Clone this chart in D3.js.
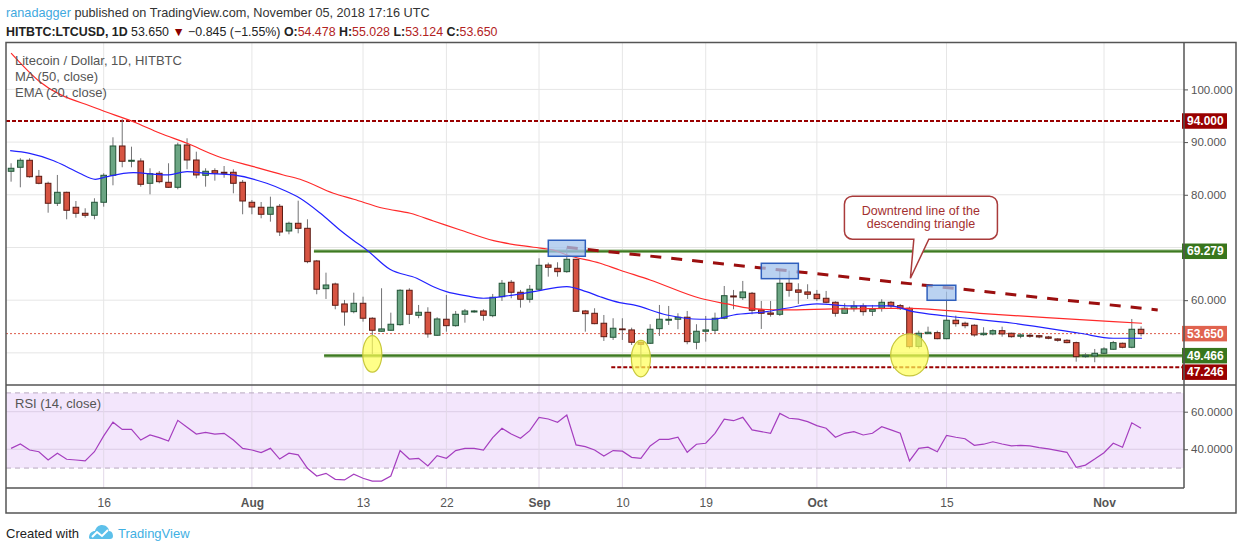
<!DOCTYPE html>
<html>
<head>
<meta charset="utf-8">
<script src="https://cdnjs.cloudflare.com/ajax/libs/d3/7.8.5/d3.min.js"></script>
<style>
    body { margin: 0; background: #fff; }
    svg { display: block; font-family: "Liberation Sans", Arial, sans-serif; }
</style>
</head>
<body>
<div id="chart"></div>
<script>
// daily candles, first one on 6 Jul 2018, last on 5 Nov 2018
var firstDay = "2018-07-06";
var opens = [84.46, 85.22, 86.55, 83.51, 82.18, 78.39, 80.47, 77.63, 76.49, 76.11,
    78.58, 83.70, 89.26, 86.36, 86.41, 82.18, 84.08, 82.37, 81.42, 89.45,
    86.60, 83.70, 84.57, 84.27, 84.27, 82.37, 78.58, 77.63, 76.30, 77.82,
    73.13, 74.59, 73.64, 67.44, 62.18, 63.07, 59.28, 57.82, 59.41, 56.57,
    54.10, 54.29, 55.35, 61.88, 57.13, 57.70, 53.34, 56.38, 55.16, 57.32,
    57.76, 57.95, 57.06, 60.66, 63.40, 61.50, 60.17, 62.07, 66.68, 66.05,
    65.41, 67.76, 57.95, 57.51, 55.62, 52.96, 54.54, 54.35, 52.01, 51.82,
    54.59, 56.19, 56.38, 56.76, 52.01, 54.10, 54.29, 56.57, 60.80, 60.47,
    61.31, 58.14, 57.57, 57.32, 63.21, 61.94, 61.56, 61.12, 60.36, 59.60,
    57.51, 58.39, 58.90, 57.89, 58.46, 59.60, 58.96, 58.46, 51.22, 53.64,
    53.83, 52.69, 56.19, 55.62, 55.24, 53.45, 53.59, 54.21, 53.72, 53.15,
    53.34, 53.26, 53.02, 52.64, 52.39, 51.94, 49.28, 49.41, 49.92, 50.68,
    51.82, 51.06, 54.478];
var highs = [85.98, 86.93, 86.93, 84.71, 82.49, 83.76, 80.59, 78.82, 77.44, 79.34,
    84.08, 90.91, 94.33, 89.13, 86.93, 85.03, 84.52, 85.98, 89.89, 90.72,
    88.18, 85.03, 85.03, 85.46, 84.84, 82.81, 79.01, 78.63, 79.64, 78.25,
    74.90, 78.88, 75.35, 67.63, 65.22, 63.32, 60.04, 61.42, 60.66, 56.76,
    62.26, 57.63, 62.07, 62.26, 59.09, 58.65, 56.76, 60.99, 57.95, 58.33,
    58.14, 58.27, 61.18, 63.83, 63.83, 61.94, 62.88, 67.95, 67.12, 67.19,
    69.85, 67.82, 58.14, 58.46, 57.19, 56.57, 56.57, 54.78, 52.13, 55.43,
    59.09, 58.90, 57.51, 57.95, 55.43, 57.00, 57.63, 62.69, 61.94, 63.65,
    61.56, 59.85, 59.85, 65.60, 65.60, 63.21, 63.02, 61.94, 61.75, 59.79,
    59.41, 59.85, 59.41, 59.09, 60.17, 59.85, 59.28, 58.77, 54.21, 54.97,
    54.21, 61.61, 57.06, 55.92, 55.43, 54.86, 54.48, 54.97, 53.83, 53.72,
    53.72, 53.40, 53.21, 52.77, 52.58, 52.13, 49.92, 50.74, 51.06, 52.26,
    51.94, 56.43, 55.028];
var lows = [82.49, 81.42, 83.24, 81.99, 76.60, 77.87, 75.35, 75.65, 75.65, 75.35,
    77.74, 81.80, 85.22, 85.22, 81.54, 80.09, 82.18, 81.30, 81.04, 84.84,
    83.13, 81.54, 82.68, 83.24, 80.28, 76.30, 76.30, 75.54, 74.90, 72.18,
    72.50, 72.69, 67.00, 61.12, 60.23, 58.27, 55.16, 57.51, 55.92, 49.79,
    54.00, 54.20, 55.16, 55.48, 56.57, 52.88, 53.21, 54.02, 54.97, 55.73,
    57.63, 56.11, 56.76, 59.85, 60.36, 58.58, 59.53, 61.94, 64.46, 64.46,
    65.20, 57.76, 54.02, 55.43, 52.26, 52.45, 52.45, 51.50, 47.25, 51.69,
    53.21, 55.29, 54.48, 51.63, 50.68, 52.13, 53.59, 56.38, 58.27, 60.04,
    57.32, 54.54, 56.87, 57.00, 60.66, 59.28, 60.23, 59.85, 59.41, 56.87,
    57.38, 57.82, 57.06, 57.00, 57.82, 58.46, 58.14, 50.83, 50.80, 53.59,
    52.58, 52.58, 54.97, 54.67, 53.07, 53.26, 53.34, 53.07, 52.88, 52.77,
    52.88, 52.77, 52.58, 52.13, 51.82, 48.33, 49.09, 48.22, 49.73, 50.55,
    50.87, 50.87, 53.124];
var closes = [85.03, 86.55, 83.43, 82.18, 78.39, 80.47, 77.06, 76.49, 76.11, 78.58,
    83.70, 89.26, 86.36, 86.55, 81.99, 84.00, 82.49, 81.42, 89.45, 86.60,
    83.76, 84.46, 84.08, 84.08, 82.18, 78.82, 77.68, 76.30, 77.63, 72.94,
    74.59, 73.64, 67.31, 62.07, 62.88, 59.03, 57.76, 59.41, 56.57, 54.29,
    54.54, 55.43, 61.88, 57.32, 57.70, 53.59, 56.43, 55.16, 57.32, 57.95,
    57.95, 57.13, 60.55, 63.21, 61.50, 60.17, 62.07, 66.62, 66.24, 65.41,
    67.76, 57.89, 57.44, 55.54, 53.07, 54.67, 54.40, 52.01, 51.63, 54.48,
    56.38, 56.38, 56.76, 52.13, 54.10, 54.35, 56.57, 60.85, 60.61, 61.56,
    58.08, 57.51, 57.32, 63.21, 61.88, 61.50, 61.12, 60.28, 59.60, 57.51,
    58.46, 58.90, 57.82, 58.27, 59.60, 58.90, 58.39, 51.18, 53.72, 53.91,
    52.69, 56.19, 55.54, 55.16, 53.40, 53.72, 54.21, 53.59, 53.07, 53.40,
    53.15, 53.02, 52.77, 52.39, 51.94, 49.28, 49.54, 49.92, 50.74, 51.94,
    51.06, 54.48, 53.650];

// RSI (14, close), one value per candle
var rsiValues = [40.5, 42.8, 39.6, 38.7, 34.3, 37.9, 34.7, 34.3, 33.8, 38.7,
    47.1, 54.4, 50.6, 50.6, 44.9, 47.6, 46.2, 44.4, 55.4, 51.7,
    48.1, 49.0, 48.1, 48.5, 44.9, 40.5, 39.6, 38.2, 40.5, 34.8,
    37.9, 37.0, 29.9, 25.8, 27.2, 24.0, 23.7, 26.7, 24.6, 23.1,
    23.1, 25.8, 39.3, 34.8, 35.2, 31.1, 36.6, 35.2, 39.3, 40.5,
    40.5, 39.6, 46.2, 51.2, 48.1, 45.9, 49.9, 57.0, 56.1, 54.4,
    58.2, 42.3, 41.4, 39.6, 36.4, 39.3, 39.0, 35.7, 35.2, 41.8,
    45.3, 45.3, 46.4, 38.4, 42.7, 43.2, 48.5, 56.0, 55.2, 57.0,
    50.3, 49.4, 48.5, 59.1, 56.5, 56.0, 54.7, 52.6, 51.2, 46.4,
    48.5, 49.4, 47.6, 48.5, 52.0, 50.3, 48.5, 33.8, 40.5, 41.1,
    38.7, 47.4, 46.4, 45.6, 42.1, 42.7, 44.0, 42.8, 41.8, 42.1,
    41.8, 40.9, 40.2, 39.3, 38.4, 30.4, 31.6, 34.8, 38.2, 43.2,
    41.1, 54.1, 51.2];

// moving averages, read at sample days (days counted from 16 Jul 2018)
var maDays = [-10, -6.9, -0.8, 3.2, 6.1, 9.0, 12.2, 16.2, 19.4, 21.2, 24.8, 27.0,
    30.2, 33.1, 35.6, 38.5, 42.1, 46.4, 48.5, 50.0, 53.6, 55.7, 59.0, 64.4,
    67.3, 69.8, 73.4, 78.8, 84.9, 87.0, 94.6, 101.8, 109.0, 112.1];
var maValues = [106.9, 101.46, 96.41, 93.87, 91.67, 89.77, 87.36, 85.33, 83.76, 82.94, 80.28, 79.15,
    77.44, 76.49, 75.03, 73.32, 71.29, 70.04, 69.53, 68.58, 67.0, 65.73, 63.83, 60.36,
    59.28, 58.46, 58.14, 58.33, 58.46, 58.46, 57.51, 56.68, 55.92, 55.62];
var emaDays = [-10.1, -8, -5.4, -4, -2.6, -0.9, 0.3, 3.2, 6.8, 9, 11.1, 14, 17.6, 19.4,
    21.2, 23.4, 25.5, 26.9, 28.4, 30.9, 33.8, 35.6, 37, 39.2, 41, 43.5, 46.4, 50,
    52.1, 53.6, 55.7, 57.2, 60.8, 64.4, 65.8, 68, 71.6, 73.7, 77, 80.6, 84.9, 87.4,
    91, 98.2, 105.4, 109, 112.1];
var emaValues = [88.37, 87.87, 86.47, 85.33, 84.08, 82.94, 83.43, 84.19, 83.76, 84.38, 84.08, 83.76, 82.18, 80.91,
    79.34, 76.49, 73.32, 71.42, 69.52, 65.86, 64.16, 62.56, 61.61, 60.80, 60.36, 60.80, 61.61, 62.56,
    61.61, 60.65, 59.53, 59.09, 57.19, 56.38, 56.38, 57.19, 57.82, 58.46, 59.28, 58.90, 58.90, 57.82,
    57.00, 55.62, 53.72, 52.77, 52.77];

// drawn levels: 94 resistance, 69.279 / 49.466 range, 47.246 low
var levelValues = [94.000, 69.279, 49.466, 47.246];
var levelStartDays = [-11, 22.7, 23.8, 54.8];
var lastPrice = 53.650;

// downtrend line of the triangle
var trendDays = [50.0, 113.8];
var trendValues = [70.04, 58.14];

// highlighted tops [day from, day to], [price low, price high]
var boxDays = [[48.0, 52.0], [71.0, 75.0], [88.9, 92.0]];
var boxPrices = [[68.33, 71.37], [64.08, 67.0], [59.98, 62.83]];

// highlighted lows
var ellipseDays = [29.0, 58.0, 87.0];
var ellipsePrices = [49.8, 48.9, 49.6];

// callout pointing at the trend line
var calloutDay = 87.1;
var calloutPrice = 64.16;
var calloutLines = ["Downtrend line of the", "descending triangle"];

var tickDates = ["2018-07-16", "2018-08-01", "2018-08-13", "2018-08-22", "2018-09-01",
    "2018-09-10", "2018-09-19", "2018-10-01", "2018-10-15", "2018-11-01"];
var tickLabels = ["16", "Aug", "13", "22", "Sep", "10", "19", "Oct", "15", "Nov"];
var priceTicks = [100, 90, 80, 60];
var priceGrid = [50, 60, 70, 80, 90, 100];
var rsiTicks = [60, 40];
var rsiBand = [30, 70];

// ---------------------------------------------------------------

var parseDay = d3.utcParse("%Y-%m-%d");
var baseDay = parseDay("2018-07-16");
function dayDate(n) { return new Date(baseDay.getTime() + n * 864e5); }

var frame = { left: 6, right: 1236, top: 42.5, sep: 385, rsiBottom: 488, bottom: 513 };
var axisX = 1184;

var svg = d3.select("#chart").append("svg")
    .attr("width", 1240)
    .attr("height", 550);

// scales
var x = d3.scaleUtc()
    .domain([dayDate(0), dayDate(108)])
    .range([103.7, 1104.0]);
var y = d3.scaleLinear()
    .domain([43.9, 108.9])
    .range([frame.sep, frame.top]);
var yRsi = d3.scaleLinear()
    .domain([19.4, 74.2])
    .range([frame.rsiBottom, frame.sep]);

var start = parseDay(firstDay);
var candles = opens.map(function(o, k) {
    return { date: d3.utcDay.offset(start, k), open: o, high: highs[k], low: lows[k], close: closes[k], rsi: rsiValues[k] };
});
var ticks = tickDates.map(parseDay);

// clip paths for the two panes
var defs = svg.append("defs");
defs.append("clipPath").attr("id", "pricePane").append("rect")
    .attr("x", frame.left).attr("y", frame.top)
    .attr("width", axisX - frame.left).attr("height", frame.sep - frame.top);
defs.append("clipPath").attr("id", "rsiPane").append("rect")
    .attr("x", frame.left).attr("y", frame.sep)
    .attr("width", axisX - frame.left).attr("height", frame.rsiBottom - frame.sep);

// ---------- price pane ----------
var price = svg.append("g").attr("clip-path", "url(#pricePane)");

price.selectAll(".hgrid").data(priceGrid).enter().append("line")
    .attr("x1", frame.left).attr("x2", axisX)
    .attr("y1", d => y(d)).attr("y2", d => y(d))
    .attr("stroke", "#e6e6e6").attr("stroke-width", 1);

price.selectAll(".vgrid").data(ticks).enter().append("line")
    .attr("x1", d => x(d)).attr("x2", d => x(d))
    .attr("y1", frame.top).attr("y2", frame.sep)
    .attr("stroke", "#e6e6e6").attr("stroke-width", 1);

// dashed red levels (94, 47.246)
[0, 3].forEach(function(k) {
    price.append("line")
        .attr("x1", Math.max(frame.left, x(dayDate(levelStartDays[k])))).attr("x2", axisX)
        .attr("y1", y(levelValues[k])).attr("y2", y(levelValues[k]))
        .attr("stroke", "#990000").attr("stroke-width", 2)
        .attr("stroke-dasharray", "4,2");
});

// green range levels (69.279, 49.466)
[1, 2].forEach(function(k) {
    var x1 = x(dayDate(levelStartDays[k]));
    price.append("line")
        .attr("x1", x1).attr("x2", axisX)
        .attr("y1", y(levelValues[k])).attr("y2", y(levelValues[k]))
        .attr("stroke", "#8fb27a").attr("stroke-width", 3.5);
    price.append("line")
        .attr("x1", x1).attr("x2", axisX)
        .attr("y1", y(levelValues[k])).attr("y2", y(levelValues[k]))
        .attr("stroke", "#3d7a22").attr("stroke-width", 1.6);
});

// last price line
price.append("line")
    .attr("x1", frame.left).attr("x2", axisX)
    .attr("y1", y(lastPrice)).attr("y2", y(lastPrice))
    .attr("stroke", "#dd5a48").attr("stroke-width", 1)
    .attr("stroke-dasharray", "2,2");

// candles
var bodyW = 5.6;
var candle = price.selectAll(".candle").data(candles).enter().append("g");

candle.append("line")
    .attr("x1", d => x(d.date)).attr("x2", d => x(d.date))
    .attr("y1", d => y(d.high)).attr("y2", d => y(d.low))
    .attr("stroke", "#737375").attr("stroke-width", 1);

candle.append("rect")
    .attr("x", d => x(d.date) - bodyW / 2)
    .attr("width", bodyW)
    .attr("y", d => y(Math.max(d.open, d.close)))
    .attr("height", d => Math.max(0.8, Math.abs(y(d.open) - y(d.close))))
    .attr("fill", d => d.close >= d.open ? "#6ba583" : "#d75442")
    .attr("stroke", d => d.close >= d.open ? "#225437" : "#5b1a13")
    .attr("stroke-width", 1);

// MA and EMA
var smooth = d3.line()
    .x(d => x(dayDate(d[0])))
    .y(d => y(d[1]))
    .curve(d3.curveMonotoneX);

price.append("path")
    .datum(d3.zip(maDays, maValues))
    .attr("d", smooth)
    .attr("fill", "none").attr("stroke", "#ff2a2a").attr("stroke-width", 1.2);

price.append("path")
    .datum(d3.zip(emaDays, emaValues))
    .attr("d", smooth)
    .attr("fill", "none").attr("stroke", "#2222ff").attr("stroke-width", 1.2);

// trend line
price.append("line")
    .attr("x1", x(dayDate(trendDays[0]))).attr("y1", y(trendValues[0]))
    .attr("x2", x(dayDate(trendDays[1]))).attr("y2", y(trendValues[1]))
    .attr("stroke", "#9b0f0f").attr("stroke-width", 3)
    .attr("stroke-dasharray", "11,10");

// highlight boxes
price.selectAll(".hbox").data(d3.zip(boxDays, boxPrices)).enter().append("rect")
    .attr("x", d => x(dayDate(d[0][0])))
    .attr("width", d => x(dayDate(d[0][1])) - x(dayDate(d[0][0])))
    .attr("y", d => y(d[1][1]))
    .attr("height", d => y(d[1][0]) - y(d[1][1]))
    .attr("fill", "#a3c3ec").attr("fill-opacity", 0.75)
    .attr("stroke", "#2f5fbd").attr("stroke-width", 1.5);

// ellipses on the lows
var ellipseR = [[9.5, 18.3], [9.5, 18.3], [18.8, 21]];
price.selectAll(".ell").data(d3.zip(ellipseDays, ellipsePrices, ellipseR)).enter().append("ellipse")
    .attr("cx", d => x(dayDate(d[0])))
    .attr("cy", d => y(d[1]))
    .attr("rx", d => d[2][0]).attr("ry", d => d[2][1])
    .attr("fill", "#ffff55").attr("fill-opacity", 0.7)
    .attr("stroke", "#c8c83c").attr("stroke-width", 1.2);

// callout
var tipX = x(dayDate(calloutDay)), tipY = y(calloutPrice);
var bl = tipX - 66, br = tipX + 87, bt = tipY - 82, bb = tipY - 39, r = 8;
var p = d3.path();
p.moveTo(bl + r, bt);
p.lineTo(br - r, bt);
p.arcTo(br, bt, br, bt + r, r);
p.lineTo(br, bb - r);
p.arcTo(br, bb, br - r, bb, r);
p.lineTo(tipX + 18.4, bb);
p.lineTo(tipX, tipY);
p.lineTo(tipX + 3.4, bb);
p.lineTo(bl + r, bb);
p.arcTo(bl, bb, bl, bb - r, r);
p.lineTo(bl, bt + r);
p.arcTo(bl, bt, bl + r, bt, r);
p.closePath();
svg.append("path")
    .attr("d", p.toString())
    .attr("fill", "#ffffff")
    .attr("stroke", "#a93b3b").attr("stroke-width", 1.5);

svg.selectAll(".callText").data(calloutLines).enter().append("text")
    .attr("x", (bl + br) / 2)
    .attr("y", (d, k) => bt + 19 + k * 13)
    .attr("text-anchor", "middle")
    .attr("font-size", "12.5px")
    .attr("fill", "#a32f2f")
    .text(d => d);

// legend of the price pane
var legend = ["Litecoin / Dollar, 1D, HITBTC", "MA (50, close)", "EMA (20, close)"];
svg.selectAll(".legend").data(legend).enter().append("text")
    .attr("x", 15)
    .attr("y", (d, k) => 64.5 + k * 16)
    .attr("font-size", "13px")
    .attr("fill", "#555")
    .text(d => d);

// ---------- RSI pane ----------
var rsi = svg.append("g").attr("clip-path", "url(#rsiPane)");

rsi.append("rect")
    .attr("x", frame.left).attr("width", axisX - frame.left)
    .attr("y", yRsi(rsiBand[1]))
    .attr("height", yRsi(rsiBand[0]) - yRsi(rsiBand[1]))
    .attr("fill", "#f3e6fc");

rsi.selectAll(".rgrid").data(rsiTicks).enter().append("line")
    .attr("x1", frame.left).attr("x2", axisX)
    .attr("y1", d => yRsi(d)).attr("y2", d => yRsi(d))
    .attr("stroke", "#dccde6").attr("stroke-width", 1);

rsi.selectAll(".vgrid").data(ticks).enter().append("line")
    .attr("x1", d => x(d)).attr("x2", d => x(d))
    .attr("y1", frame.sep).attr("y2", frame.rsiBottom)
    .attr("stroke", "#e2d8e8").attr("stroke-width", 1);

rsi.selectAll(".band").data(rsiBand).enter().append("line")
    .attr("x1", frame.left).attr("x2", axisX)
    .attr("y1", d => yRsi(d)).attr("y2", d => yRsi(d))
    .attr("stroke", "#b7a8bf").attr("stroke-width", 1)
    .attr("stroke-dasharray", "5,4");

rsi.append("path")
    .datum(candles)
    .attr("d", d3.line().x(d => x(d.date)).y(d => yRsi(d.rsi)))
    .attr("fill", "none").attr("stroke", "#a53ebf").attr("stroke-width", 1.2);

svg.append("text")
    .attr("x", 15).attr("y", 407.5)
    .attr("font-size", "13px").attr("fill", "#555")
    .text("RSI (14, close)");

// ---------- axes ----------
var priceAxis = svg.append("g")
    .attr("transform", `translate(${axisX}, 0)`)
    .call(d3.axisRight(y).tickValues(priceTicks).tickFormat(d3.format(".3f")).tickSize(4).tickPadding(3));

var rsiAxis = svg.append("g")
    .attr("transform", `translate(${axisX}, 0)`)
    .call(d3.axisRight(yRsi).tickValues(rsiTicks).tickFormat(d3.format(".4f")).tickSize(4).tickPadding(3));

[priceAxis, rsiAxis].forEach(function(a) {
    a.select(".domain").remove();
    a.selectAll(".tick line").attr("stroke", "#555");
    a.selectAll(".tick text").attr("fill", "#555").attr("font-size", "11.5px")
        .attr("font-family", "Liberation Sans, Arial, sans-serif");
});

var timeAxis = svg.append("g")
    .attr("transform", `translate(0, ${frame.rsiBottom})`)
    .call(d3.axisBottom(x).tickValues(ticks).tickFormat((d, k) => tickLabels[k]).tickSize(0).tickPadding(10));
timeAxis.select(".domain").remove();
timeAxis.selectAll(".tick text")
    .attr("fill", "#555").attr("font-size", "12px")
    .attr("font-family", "Liberation Sans, Arial, sans-serif")
    .attr("font-weight", (d, k) => isNaN(+tickLabels[k]) ? "bold" : "normal");

// coloured labels on the price scale
var axisLabels = [
    { v: levelValues[0], fill: "#990000" },
    { v: levelValues[1], fill: "#38761d" },
    { v: lastPrice, fill: "#e0634f" },
    { v: levelValues[2], fill: "#38761d" },
    { v: levelValues[3], fill: "#990000" }
];
var labelH = 15.5, prevBottom = -Infinity;
axisLabels.sort((a, b) => y(a.v) - y(b.v)).forEach(function(d) {
    var top = Math.max(y(d.v) - labelH / 2, prevBottom + 1);
    prevBottom = top + labelH;
    svg.append("rect")
        .attr("x", axisX - 2).attr("y", top)
        .attr("width", 45).attr("height", labelH)
        .attr("fill", d.fill);
    svg.append("text")
        .attr("x", axisX + 3).attr("y", top + labelH / 2 + 4.2)
        .attr("font-size", "12px").attr("font-weight", "bold")
        .attr("fill", "#fff")
        .text(d3.format(".3f")(d.v));
});

// ---------- frame ----------
var border = "#555";
svg.append("rect")
    .attr("x", frame.left).attr("y", frame.top)
    .attr("width", frame.right - frame.left).attr("height", frame.bottom - frame.top)
    .attr("fill", "none").attr("stroke", border).attr("stroke-width", 1.5);
svg.append("line")
    .attr("x1", frame.left).attr("x2", frame.right)
    .attr("y1", frame.sep).attr("y2", frame.sep)
    .attr("stroke", border).attr("stroke-width", 1.5);
svg.append("line")
    .attr("x1", frame.left).attr("x2", axisX)
    .attr("y1", frame.rsiBottom).attr("y2", frame.rsiBottom)
    .attr("stroke", border).attr("stroke-width", 1.5);
svg.append("line")
    .attr("x1", axisX).attr("x2", axisX)
    .attr("y1", frame.top).attr("y2", frame.rsiBottom)
    .attr("stroke", border).attr("stroke-width", 1.5);

// ---------- header ----------
var h1 = svg.append("text").attr("x", 6).attr("y", 16.5).attr("font-size", "12.7px").attr("fill", "#333");
h1.append("tspan").attr("fill", "#3fa9e0").text("ranadagger");
h1.append("tspan").text(" published on TradingView.com, November 05, 2018 17:16 UTC");

var h2 = svg.append("text").attr("x", 6).attr("y", 35.5).attr("font-size", "12.4px").attr("fill", "#222");
h2.append("tspan").attr("font-weight", "bold").text("HITBTC:LTCUSD, 1D");
h2.append("tspan").text(" 53.650 ");
h2.append("tspan").attr("fill", "#8b0000").text("\u25BC");
h2.append("tspan").text(" \u22120.845 (\u22121.55%) ");
[["O:", "54.478"], ["H:", "55.028"], ["L:", "53.124"], ["C:", "53.650"]].forEach(function(pair, k) {
    h2.append("tspan").attr("font-weight", "bold").text((k ? " " : "") + pair[0]);
    h2.append("tspan").attr("fill", "#b22222").text(pair[1]);
});

// ---------- footer ----------
svg.append("text")
    .attr("x", 6).attr("y", 537.5)
    .attr("font-size", "13px").attr("fill", "#222")
    .text("Created with");

var logo = svg.append("g").attr("transform", "translate(88, 524)");
logo.append("path")
    .attr("d", "M1,14 C1,9 4,7 7,7 C8,3 11,1 14,1 C18,1 21,4 21,7 C24,7 25,10 25,12 C25,14 24,15 22,15 L3,15 C2,15 1,14.5 1,14 Z")
    .attr("fill", "#5dc0ea");
logo.append("path")
    .attr("d", "M4,13 L9,8 L14,12 L20,6")
    .attr("fill", "none").attr("stroke", "#fff").attr("stroke-width", 2);

svg.append("text")
    .attr("x", 118).attr("y", 537.5)
    .attr("font-size", "13px").attr("fill", "#3fb0e3")
    .text("TradingView");
</script>
</body>
</html>
